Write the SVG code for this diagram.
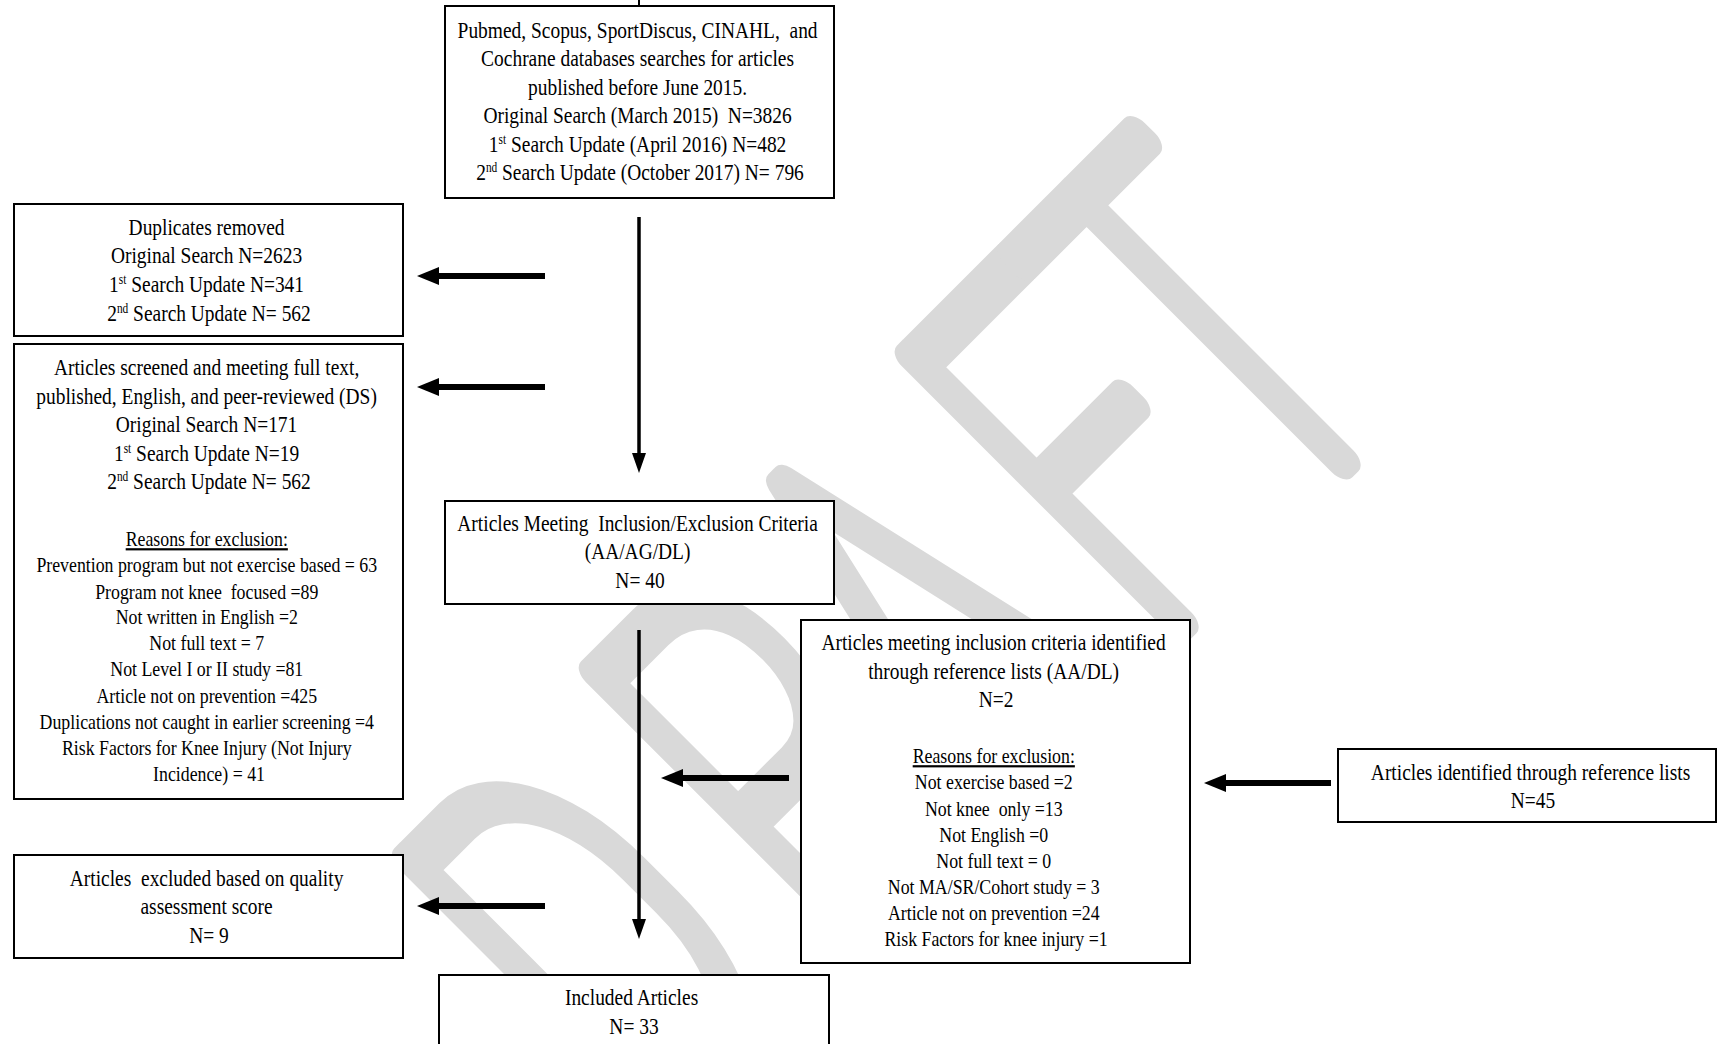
<svg xmlns="http://www.w3.org/2000/svg" width="1718" height="1044" viewBox="0 0 1718 1044">
<style>
.bx{fill:#fff;stroke:#000;stroke-width:2}
.t{font-family:"Liberation Serif","Times New Roman",serif;font-size:24px;fill:#000;text-anchor:middle}
.s{font-size:22px}
.sup{font-size:14px}
.u{text-decoration:underline}
.wm{font-family:Roboto,"Noto Sans",Inter,sans-serif;font-weight:100;font-size:325px;fill:#d9d9d9;stroke:#d9d9d9;stroke-width:30;stroke-linejoin:round;stroke-linecap:round;vector-effect:non-scaling-stroke}
.ln{stroke:#000;fill:none}
.h{stroke-width:6;marker-end:url(#ah)}
.v{stroke-width:3.5;marker-end:url(#av)}
</style>
<defs>
<marker id="ah" viewBox="0 0 22 18" markerWidth="22" markerHeight="18" refX="1" refY="9" orient="auto" markerUnits="userSpaceOnUse"><path d="M0,0 L22,9 L0,18 z" fill="#000"/></marker>
<marker id="av" viewBox="0 0 20 14" markerWidth="20" markerHeight="14" refX="1" refY="7" orient="auto" markerUnits="userSpaceOnUse"><path d="M0,0 L20,7 L0,14 z" fill="#000"/></marker>
</defs>
<rect width="1718" height="1044" fill="#fff"/>
<g id="watermark">
<text class="wm" transform="translate(902 902) rotate(-45) scale(1 1.64)" x="-353 -88 116 358 526" y="0">DRAFT</text>
</g>
<g id="connectors">
<line class="ln" x1="639" y1="0" x2="639" y2="6" stroke-width="2"/>
<line class="ln v" x1="639" y1="217" x2="639" y2="454"/>
<line class="ln v" x1="639" y1="630" x2="639" y2="920"/>
<line class="ln h" x1="545" y1="276" x2="438" y2="276"/>
<line class="ln h" x1="545" y1="387" x2="438" y2="387"/>
<line class="ln h" x1="545" y1="906" x2="438" y2="906"/>
<line class="ln h" x1="789" y1="778" x2="682" y2="778"/>
<line class="ln h" x1="1331" y1="783" x2="1225" y2="783"/>
</g>
<g id="n-search">
<rect class="bx" x="445" y="6" width="389" height="192"/>
<text class="t" transform="translate(640 0) scale(0.81 1)">
<tspan x="0" y="38">Pubmed, Scopus, SportDiscus, CINAHL, &#160;and</tspan>
<tspan x="0" y="66">Cochrane databases searches for articles</tspan>
<tspan x="0" y="95">published before June 2015.</tspan>
<tspan x="0" y="123">Original Search (March 2015) &#160;N=3826</tspan>
<tspan x="0" y="152">1<tspan class="sup" baseline-shift="super">st</tspan> Search Update (April 2016) N=482</tspan>
<tspan x="0" y="180">2<tspan class="sup" baseline-shift="super">nd</tspan> Search Update (October 2017) N= 796</tspan>
</text>
</g>
<g id="n-duplicates">
<rect class="bx" x="14" y="204" width="389" height="132"/>
<text class="t" transform="translate(209 0) scale(0.81 1)">
<tspan x="0" y="235">Duplicates removed</tspan>
<tspan x="0" y="263">Original Search N=2623</tspan>
<tspan x="0" y="292">1<tspan class="sup" baseline-shift="super">st</tspan> Search Update N=341</tspan>
<tspan x="0" y="321">2<tspan class="sup" baseline-shift="super">nd</tspan> Search Update N= 562</tspan>
</text>
</g>
<g id="n-screened">
<rect class="bx" x="14" y="344" width="389" height="455"/>
<text class="t" transform="translate(209 0) scale(0.81 1)">
<tspan x="0" y="375">Articles screened and meeting full text,</tspan>
<tspan x="0" y="404">published, English, and peer-reviewed (DS)</tspan>
<tspan x="0" y="432">Original Search N=171</tspan>
<tspan x="0" y="461">1<tspan class="sup" baseline-shift="super">st</tspan> Search Update N=19</tspan>
<tspan x="0" y="489">2<tspan class="sup" baseline-shift="super">nd</tspan> Search Update N= 562</tspan>
</text>
<text class="t s" transform="translate(209 0) scale(0.81 1)">
<tspan class="u" x="0" y="546">Reasons for exclusion:</tspan>
<tspan x="0" y="572">Prevention program but not exercise based = 63</tspan>
<tspan x="0" y="599">Program not knee &#160;focused =89</tspan>
<tspan x="0" y="624">Not written in English =2</tspan>
<tspan x="0" y="650">Not full text = 7</tspan>
<tspan x="0" y="676">Not Level I or II study =81</tspan>
<tspan x="0" y="703">Article not on prevention =425</tspan>
<tspan x="0" y="729">Duplications not caught in earlier screening =4</tspan>
<tspan x="0" y="755">Risk Factors for Knee Injury (Not Injury</tspan>
<tspan x="0" y="781">Incidence) = 41</tspan>
</text>
</g>
<g id="n-criteria">
<rect class="bx" x="445" y="501" width="389" height="103"/>
<text class="t" transform="translate(640 0) scale(0.81 1)">
<tspan x="0" y="531">Articles Meeting &#160;Inclusion/Exclusion Criteria</tspan>
<tspan x="0" y="559">(AA/AG/DL)</tspan>
<tspan x="0" y="588">N= 40</tspan>
</text>
</g>
<g id="n-reflist-criteria">
<rect class="bx" x="801" y="620" width="389" height="343"/>
<text class="t" transform="translate(996 0) scale(0.81 1)">
<tspan x="0" y="650">Articles meeting inclusion criteria identified</tspan>
<tspan x="0" y="679">through reference lists (AA/DL)</tspan>
<tspan x="0" y="707">N=2</tspan>
</text>
<text class="t s" transform="translate(996 0) scale(0.81 1)">
<tspan class="u" x="0" y="763">Reasons for exclusion:</tspan>
<tspan x="0" y="789">Not exercise based =2</tspan>
<tspan x="0" y="816">Not knee &#160;only =13</tspan>
<tspan x="0" y="842">Not English =0</tspan>
<tspan x="0" y="868">Not full text = 0</tspan>
<tspan x="0" y="894">Not MA/SR/Cohort study = 3</tspan>
<tspan x="0" y="920">Article not on prevention =24</tspan>
<tspan x="0" y="946">Risk Factors for knee injury =1</tspan>
</text>
</g>
<g id="n-reflist">
<rect class="bx" x="1338" y="749" width="378" height="73"/>
<text class="t" transform="translate(1533 0) scale(0.81 1)">
<tspan x="0" y="780">Articles identified through reference lists</tspan>
<tspan x="0" y="808">N=45</tspan>
</text>
</g>
<g id="n-quality">
<rect class="bx" x="14" y="855" width="389" height="103"/>
<text class="t" transform="translate(209 0) scale(0.81 1)">
<tspan x="0" y="886">Articles &#160;excluded based on quality</tspan>
<tspan x="0" y="914">assessment score</tspan>
<tspan x="0" y="943">N= 9</tspan>
</text>
</g>
<g id="n-included">
<rect class="bx" x="439" y="975" width="390" height="80"/>
<text class="t" transform="translate(634 0) scale(0.81 1)">
<tspan x="0" y="1005">Included Articles</tspan>
<tspan x="0" y="1034">N= 33</tspan>
</text>
</g>
</svg>
